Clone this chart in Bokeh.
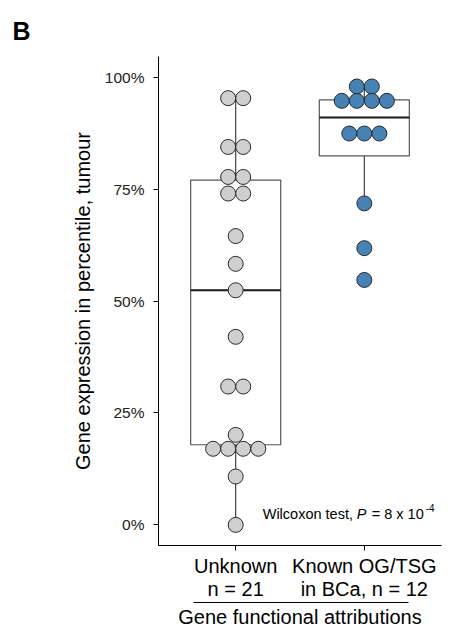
from bokeh.plotting import figure
from bokeh.models import FixedTicker, LinearAxis, Label, Range1d, ColumnDataSource, Title
from bokeh.embed import file_html
from bokeh.resources import INLINE

# ---- data -------------------------------------------------------------
cat_pos = [1, 2]
cat_labels = ["Unknown\nn = 21", "Known OG/TSG\nin BCa, n = 12"]
unknown_vals = [95.3, 95.3, 84.4, 84.4, 77.7, 77.7, 74.0, 74.0, 64.5, 58.3,
                52.4, 42.0, 30.9, 30.9, 20.1, 17.0, 17.0, 17.0, 17.0, 10.8, 0.0]
known_vals = [97.9, 97.9, 94.7, 94.7, 94.7, 94.7, 87.4, 87.4, 87.4, 71.8, 61.8, 54.7]
box_q1 = [17.9, 82.4]
box_med = [52.4, 91.0]
box_q3 = [77.0, 94.9]
whisk_lo = [0.0, 71.8]
whisk_hi = [95.3, 97.9]
y_ticks = [0, 25, 50, 75, 100]
y_tick_labels = ["0%", "25%", "50%", "75%", "100%"]
point_fill = ["#CFCFCF", "#4682B4"]

FONT = "Liberation Sans"
BOX_W = 0.7
DOT_STEP = 0.117
DOT_SIZE = 15


def stack_x(vals, center, step):
    counts = {}
    for v in vals:
        counts[v] = counts.get(v, 0) + 1
    seen = {}
    xs = []
    for v in vals:
        n = counts[v]
        i = seen.get(v, 0)
        seen[v] = i + 1
        xs.append(center + (i - (n - 1) / 2) * step)
    return xs


p = figure(width=459, height=631, output_backend="svg", toolbar_location=None,
           x_range=Range1d(0.4, 2.6), y_range=Range1d(-4.6, 104.6),
           x_axis_type=None, y_axis_type=None,
           min_border_left=158, min_border_right=18, min_border_top=56,
           min_border_bottom=86)
p.outline_line_color = None
p.grid.visible = False
p.background_fill_color = "white"
p.border_fill_color = "white"

# panel letter as a left-shifted title
p.add_layout(Title(text="B", align="left", offset=-146, standoff=24,
                   text_font=FONT, text_font_size="25px", text_font_style="bold",
                   text_color="black"), "above")

# ---- boxes --------------------------------------------------------------
box_src = ColumnDataSource(dict(x=cat_pos, q1=box_q1, med=box_med, q3=box_q3,
                                lo=whisk_lo, hi=whisk_hi,
                                left=[c - BOX_W / 2 for c in cat_pos],
                                right=[c + BOX_W / 2 for c in cat_pos]))
p.segment(x0="x", y0="lo", x1="x", y1="q1", source=box_src, line_color="#444444", line_width=1.2)
p.segment(x0="x", y0="q3", x1="x", y1="hi", source=box_src, line_color="#444444", line_width=1.2)
p.quad(left="left", right="right", bottom="q1", top="q3", source=box_src,
       fill_color="white", line_color="#555555", line_width=1.2)
p.segment(x0="left", y0="med", x1="right", y1="med", source=box_src,
          line_color="#1a1a1a", line_width=2)

# ---- dots ---------------------------------------------------------------
for vals, c, fill in [(unknown_vals, cat_pos[0], point_fill[0]),
                      (known_vals, cat_pos[1], point_fill[1])]:
    p.scatter(x=stack_x(vals, c, DOT_STEP), y=vals, size=DOT_SIZE,
              fill_color=fill, line_color="#2a2a2a", line_width=1)

# ---- axes ---------------------------------------------------------------
yax = LinearAxis(ticker=FixedTicker(ticks=y_ticks),
                 major_label_overrides={t: l for t, l in zip(y_ticks, y_tick_labels)})
yax.axis_label = "Gene expression in percentile, tumour"
yax.axis_label_text_font = FONT
yax.axis_label_text_font_size = "20px"
yax.axis_label_text_font_style = "normal"
yax.axis_label_text_color = "black"
yax.axis_label_standoff = 8
yax.major_label_text_font = FONT
yax.major_label_text_font_size = "15.5px"
yax.major_label_text_color = "#222222"
yax.major_label_standoff = 9
yax.major_tick_out = 5
yax.major_tick_in = 0
yax.minor_tick_out = 0
yax.minor_tick_in = 0
yax.axis_line_color = "black"
yax.major_tick_line_color = "black"
p.add_layout(yax, "left")

xax = LinearAxis(ticker=FixedTicker(ticks=cat_pos),
                 major_label_overrides={c: l for c, l in zip(cat_pos, cat_labels)})
xax.major_label_text_font = FONT
xax.major_label_text_font_size = "20px"
xax.major_label_text_color = "black"
xax.major_label_text_line_height = 1.05
xax.major_label_standoff = 4
xax.major_tick_out = 5
xax.major_tick_in = 0
xax.minor_tick_out = 0
xax.minor_tick_in = 0
xax.axis_line_color = "black"
xax.major_tick_line_color = "black"
p.add_layout(xax, "below")

xax2 = LinearAxis(ticker=FixedTicker(ticks=[]), bounds=(0.672, 2.344))
xax2.axis_label = "Gene functional attributions"
xax2.axis_label_text_font = FONT
xax2.axis_label_text_font_size = "20px"
xax2.axis_label_text_font_style = "normal"
xax2.axis_label_text_color = "black"
xax2.axis_label_standoff = 3
xax2.major_tick_out = 0
xax2.major_tick_in = 0
xax2.minor_tick_out = 0
xax2.minor_tick_in = 0
xax2.major_label_standoff = 0
xax2.axis_line_color = "black"
p.add_layout(xax2, "below")

# ---- annotations --------------------------------------------------------
stat_x, stat_y = 1.21, 2.5
pieces = [("Wilcoxon test,", 0, 0, "normal", "14.5px"),
          ("P", 94, 0, "italic", "14.5px"),
          ("= 8 x 10", 109, 0, "normal", "14.5px"),
          ("-4", 163, 6, "normal", "10px")]
for txt, dx, dy, style, size in pieces:
    p.add_layout(Label(x=stat_x, y=stat_y, x_offset=dx, y_offset=dy, text=txt,
                       text_font=FONT, text_font_size=size, text_font_style=style,
                       text_baseline="middle", text_align="left", text_color="black"))

open("out.html", "w").write(file_html(p, INLINE))
